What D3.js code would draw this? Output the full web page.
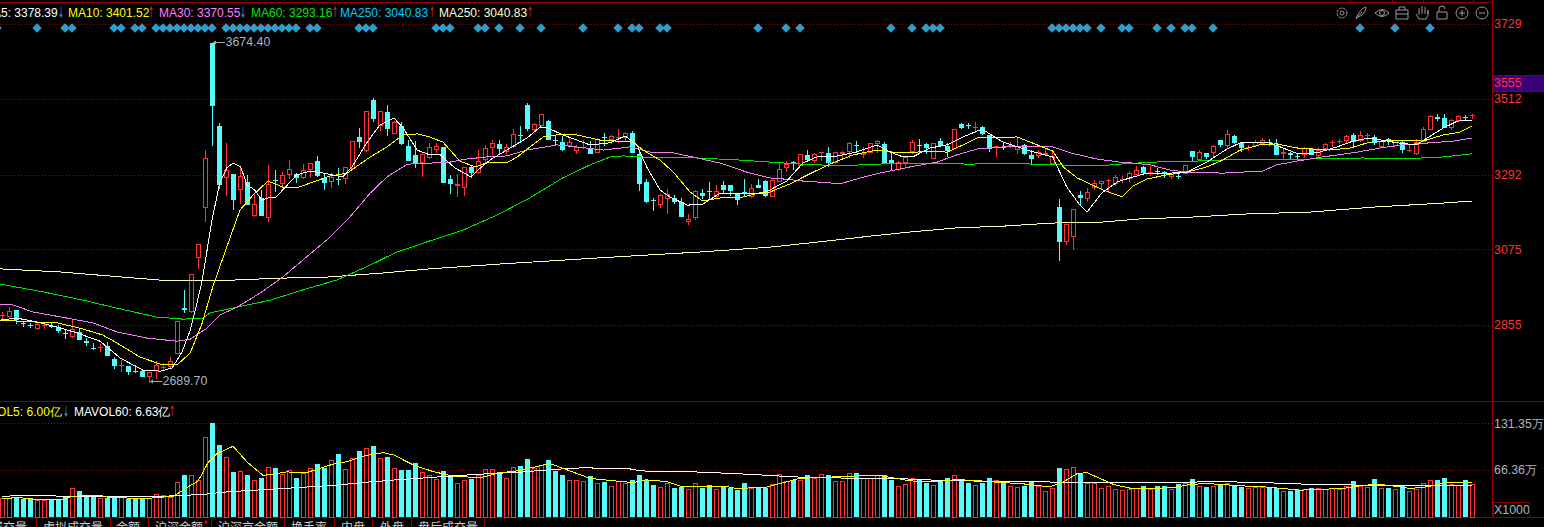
<!DOCTYPE html>
<html><head><meta charset="utf-8">
<script src="https://cdnjs.cloudflare.com/ajax/libs/d3/7.8.5/d3.min.js"></script>
<style>html,body{margin:0;padding:0;background:#000;overflow:hidden}svg{display:block;font-family:"Liberation Sans",Arial,sans-serif}</style>
</head><body><svg id="c" width="1544" height="527"></svg>
<script>
const open=[2883,2881,2898,2862,2856,2846,2854,2853,2849,2833,2823,2835,2809,2789,2790,2794,2756,2738,2736,2722,2721,2707,2724,2732,2736,2774,2903,2896,3052,3198,3674,3433,3285,3294,3250,3270,3174,3224,3168,3277,3268,3294,3294,3285,3308,3331,3282,3273,3280,3282,3311,3401,3363,3508,3436,3473,3413,3433,3375,3349,3328,3343,3366,3372,3279,3261,3256,3314,3299,3337,3372,3381,3360,3375,3408,3494,3424,3436,3447,3393,3386,3378,3363,3371,3369,3357,3402,3395,3400,3401,3413,3352,3270,3219,3206,3224,3224,3212,3157,3168,3239,3245,3230,3262,3262,3239,3240,3230,3262,3273,3230,3273,3314,3329,3320,3349,3334,3356,3355,3328,3354,3360,3379,3351,3357,3384,3381,3334,3308,3328,3360,3379,3381,3340,3389,3375,3369,3439,3437,3429,3430,3407,3372,3373,3377,3366,3378,3349,3349,3352,3326,3198,3099,3113,3233,3224,3256,3268,3275,3268,3278,3282,3294,3314,3298,3303,3298,3288,3289,3297,3360,3337,3355,3357,3392,3378,3404,3384,3371,3378,3384,3387,3378,3354,3353,3347,3352,3366,3349,3369,3385,3388,3392,3407,3392,3406,3401,3375,3396,3378,3386,3362,3355,3389,3424,3458,3456,3430,3450,3460,3464];
const high=[2893,2907,2898,2866,2861,2864,2864,2861,2855,2840,2869,2846,2817,2803,2800,2806,2762,2753,2736,2739,2721,2718,2750,2744,2762,2866,2957,3003,3090,3363,3674.4,3442,3384,3294,3314,3291,3239,3247,3320,3305,3299,3334,3297,3323,3326,3346,3294,3297,3311,3314,3389,3427,3476,3514,3476,3494,3447,3444,3392,3389,3352,3384,3384,3372,3291,3294,3314,3317,3363,3378,3392,3392,3381,3424,3433,3500,3442,3468,3450,3404,3404,3401,3378,3392,3389,3398,3413,3407,3424,3415,3418,3357,3279,3224,3236,3250,3233,3224,3177,3247,3250,3270,3262,3273,3262,3239,3279,3265,3279,3276,3276,3326,3331,3331,3352,3363,3355,3357,3372,3357,3360,3386,3389,3372,3384,3392,3386,3355,3331,3346,3392,3395,3384,3384,3398,3384,3424,3442,3442,3444,3433,3407,3375,3384,3386,3398,3381,3363,3363,3369,3363,3221,3148,3192,3244,3253,3276,3273,3279,3291,3288,3302,3317,3317,3317,3311,3302,3297,3294,3320,3360,3363,3355,3378,3392,3421,3407,3384,3378,3392,3398,3395,3395,3366,3357,3352,3372,3366,3372,3384,3392,3395,3407,3413,3418,3413,3407,3389,3398,3392,3389,3378,3395,3430,3465,3468,3468,3453,3465,3465,3468];
const low=[2875,2881,2861,2852,2849,2843,2846,2849,2835,2817,2820,2814,2797,2785,2779,2768,2730,2721,2713,2718,2707,2689.7,2701,2724,2733,2774,2893,2893,3020,3157,3378,3253,3233,3192,3209,3206,3171,3174,3157,3244,3259,3282,3270,3282,3285,3288,3250,3256,3265,3268,3311,3372,3360,3447,3421,3407,3413,3381,3334,3314,3288,3340,3357,3270,3239,3230,3233,3285,3297,3326,3352,3355,3355,3372,3386,3421,3421,3433,3395,3381,3363,3372,3355,3369,3355,3357,3378,3384,3386,3392,3357,3247,3212,3189,3198,3180,3209,3171,3148,3163,3224,3221,3224,3241,3233,3206,3230,3227,3256,3230,3230,3273,3302,3308,3320,3337,3328,3334,3317,3326,3343,3343,3357,3343,3357,3357,3326,3308,3305,3320,3355,3357,3355,3340,3378,3346,3369,3427,3427,3415,3410,3360,3346,3366,3372,3355,3352,3323,3343,3349,3326,3044,3090,3076,3206,3215,3250,3250,3241,3262,3270,3273,3294,3297,3291,3294,3285,3282,3282,3297,3331,3334,3340,3346,3375,3372,3384,3360,3363,3375,3384,3378,3352,3340,3337,3340,3343,3352,3346,3369,3375,3384,3386,3372,3389,3392,3381,3375,3381,3378,3357,3360,3352,3389,3424,3450,3430,3424,3447,3453,3456];
const close=[2885,2896,2872,2860,2854,2858,2856,2851,2840,2831,2843,2814,2807,2787,2792,2768,2739,2740,2721,2720,2707,2718,2739,2734,2750,2866,2901,3003,3090,3340,3494,3265,3305,3221,3288,3206,3206,3174,3265,3275,3291,3308,3285,3305,3326,3291,3270,3285,3278,3314,3389,3389,3476,3456,3476,3427,3444,3384,3334,3328,3352,3372,3375,3270,3268,3263,3314,3299,3331,3369,3384,3369,3372,3410,3406,3427,3439,3468,3395,3391,3366,3386,3372,3373,3355,3395,3400,3404,3402,3413,3357,3268,3215,3217,3233,3236,3215,3171,3163,3244,3233,3243,3244,3250,3247,3221,3238,3253,3256,3233,3276,3308,3323,3327,3352,3337,3352,3357,3328,3357,3356,3384,3377,3353,3384,3389,3326,3326,3328,3343,3386,3377,3372,3384,3378,3363,3424,3430,3435,3431,3413,3369,3375,3371,3379,3375,3355,3340,3357,3355,3346,3099,3148,3192,3227,3241,3268,3273,3277,3285,3280,3297,3305,3299,3300,3301,3296,3294,3287,3320,3346,3357,3346,3375,3381,3410,3386,3372,3373,3386,3392,3385,3352,3356,3351,3345,3369,3352,3363,3381,3387,3390,3404,3389,3407,3408,3386,3389,3394,3392,3366,3364,3386,3424,3462,3456,3430,3450,3462,3458,3466];
const volume=[26.9,26.9,27.3,25,25.9,23.2,23.2,25,25,27.8,40.8,36.2,28.7,28.3,25.9,26.4,27.3,27.8,25,25,25,25.9,32.4,30.1,27.3,49.1,58.4,59.3,51.4,112,131.35,101,84.3,62.5,64.8,58.4,52.4,54.7,70.4,68.1,59.8,65.8,54.2,61.6,69.1,73.7,68.1,80.2,87.6,67.6,82.9,91.7,96.8,98.7,82.9,83.4,69.1,65.3,65.3,76,63.5,58,53.7,64.9,56.1,48.2,52.4,52.9,58.4,67.6,67.6,63,55.1,70.4,70.9,80.6,69,72.3,79.2,63.9,58.4,52.4,52.4,51,57,48.2,48.6,44,51,47.3,51.4,58.4,52.4,44.5,42.6,48.2,40.3,42.2,38.5,48.2,40.8,44.5,39.8,42.2,41.2,37.5,47.3,40.8,41.2,41.2,46.8,60.7,50.5,52.4,52.4,58.4,54.7,60.7,58.4,51,51,62.1,61.2,54.7,54.7,59.3,58.4,51.4,44,46.8,55.1,52.4,47.3,45.4,50.5,54.2,59.3,52.4,47.3,45.4,47.3,54.2,52.4,47.3,44,42.6,43,48.6,43.6,36.1,41.2,68.1,67.6,70.4,60.7,48.2,48.2,41.2,44,39.8,37.5,38.5,41.2,43,38.9,43,43,39.8,45.9,48.2,52.8,44,41.7,43,45.9,48.2,44.5,41.7,41.2,41.7,42.6,41.2,41.2,36.1,36.1,37.5,39.8,40.3,41.2,39.8,41.2,38.5,44,50,44,42.6,52.8,41.2,40.3,38.5,43,36.1,38.9,47.3,52.4,51.4,54.2,46.8,45.4,51.4,45.9];

const ma5Bars=[-.3,2.1,5,7.9,10.7,14,16.9,20.1,22.6,24.3,25.7,26.9,28.3,28.6,30,31.1,32.1,33,34.1,35,36.1,37.1,38,39,40.1,42.1,44,46,48.7,50,52.1,54,56,57.3,59.3,61.1,62.6,64.7,67,68,69.7,72.1,75,76.9,78,80.1,84,86.9,89,90.7,92.1,94,95.4,97.9,100.1,102.6,104,108.7,109.7,112.1,114.4,116.4,118.7,121.6,125,126.9,128.7,130.1,132.6,135,137.3,140,143,146.9,150.1,152.1,154,155,157.1,159.3,161.1,163.6,166.9,169.3,172.1,175,176.9,181.1,183,185.1,187.9,190.7,193,195.4,199.3,202.1,203.6,205.9,207.9,210];
const ma5=[2869,2875,2864,2849,2832,2808,2759,2724,2721,2730,2776,2840,2957,2986,3160,3267,3311,3325,3314,3262,3247,3218,3224,3224,3247,3291,3302,3296,3285,3314,3384,3436,3456,3427,3363,3349,3349,3311,3285,3305,3334,3363,3398,3430,3427,3407,3378,3384,3404,3378,3314,3247,3227,3203,3206,3238,3238,3238,3247,3273,3325,3343,3343,3355,3378,3357,3343,3343,3369,3378,3401,3424,3386,3360,3343,3256,3203,3183,3238,3270,3282,3296,3296,3299,3328,3366,3384,3384,3369,3352,3355,3372,3389,3398,3384,3378,3398,3427,3447,3450];
const ma10Bars=[-.3,4.4,7.9,11.1,14.4,16.4,19.7,23,25,26.9,28.6,30.1,32.1,34,35.9,38,40.4,42.1,44.4,46.9,49.3,52.6,55,57.3,59.4,61.1,63,65.4,67.6,69.3,72.1,73.6,75.4,77.3,79.3,82.1,85.4,90.1,91.6,94,95.9,98.3,100.1,102.6,105.4,108.7,109.7,112.6,115.9,118.7,121.6,125,127.3,130.7,132.6,135,137.3,139.3,145,147.9,150.1,151.6,153.6,157.3,160,161.6,163.6,166.4,169.3,172.1,174.4,176.9,179.7,182.1,185,189.7,192.6,195.4,199.7,203,205.9,208.3,210];
const ma10=[2869,2864,2861,2846,2826,2803,2762,2739,2739,2774,2861,2965,3081,3189,3233,3273,3253,3253,3270,3288,3296,3343,3372,3407,3410,3401,3386,3331,3314,3326,3326,3343,3372,3401,3407,3407,3392,3386,3363,3334,3299,3241,3215,3224,3224,3241,3241,3265,3299,3326,3349,3363,3357,3357,3360,3357,3378,3398,3401,3378,3360,3314,3282,3247,3227,3259,3279,3291,3299,3314,3334,3363,3378,3381,3369,3363,3369,3386,3392,3389,3407,3415,3433];
const ma30Bars=[-.3,1.6,4.4,9.3,13,16.4,20.7,25,26.9,29.3,31.1,33.6,36.9,40.1,43,46.4,49.7,52.6,55,57.9,61.1,64,66.4,69.3,72.1,75,79.3,82.1,85.9,89.7,92.6,95.4,99.3,102.6,106.4,109.7,111.6,114.4,118.7,120.1,122.6,125.4,129.7,133.6,136.4,139.3,143,150.1,152.6,156.4,159.7,161.6,164,166.9,169.3,174.4,180.1,182.1,185,188.7,193.6,196.9,200.1,204,207.3,210];
const ma30=[2916,2913,2893,2875,2861,2835,2817,2808,2814,2846,2884,2907,2948,2994,3044,3102,3169,3238,3285,3322,3325,3328,3337,3343,3346,3363,3378,3372,3363,3372,3357,3357,3340,3325,3299,3282,3279,3273,3267,3267,3282,3296,3314,3328,3349,3366,3372,3372,3355,3337,3328,3325,3320,3305,3299,3296,3302,3320,3331,3343,3357,3369,3378,3384,3389,3398];
const ma60Bars=[-.3,2.1,5.9,11.6,16.4,22.1,25.9,28.7,29.7,33.6,38.3,43,47.9,52.6,56.4,61.1,65.9,70.7,75.4,80.1,84,86.9,88.7,93.6,99.3,105.4,109.7,114.4,120.1,124.4,132.6,138.3,143,150.7,156.4,159.7,164.4,170.7,177.3,186.9,194.4,199.7,205.9,210];
const ma60=[2974,2965,2951,2927,2904,2878,2872,2875,2890,2907,2927,2957,2986,3029,3067,3099,3131,3174,3224,3282,3320,3343,3346,3340,3340,3334,3328,3322,3317,3322,3325,3322,3325,3320,3317,3322,3328,3331,3337,3337,3340,3337,3343,3352];
const ma250Bars=[-.3,8.3,24,30.1,39.7,46.4,54.4,61.1,71.1,85.4,99.7,109.7,119.3,124,129.7,136.4,143,150.1,157.3,162.6,170.7,177.3,186.9,196.4,205.9,210];
const ma250=[3018,3009,2983,2983,2991,2994,3006,3018,3032,3050,3067,3081,3102,3113,3125,3137,3142,3151,3154,3163,3169,3177,3183,3198,3209,3215];
const vol5Bars=[0,2.5,5.5,8.7,10,14,15.4,20.7,24.5,26.9,28,29.5,30.7,33,35,37.3,40.7,43.5,48,49.2,52,54.5,56,58.8,61.6,64.5,68.3,71,74,77,78.3,80.7,84,87,90.2,92,95,96.9,103.5,105,109.2,111.6,114,118.8,125,127.3,129.7,133,136.4,139.7,142.6,145.5,147.4,149.7,151.6,153.6,155,156.9,158.8,161.6,164.5,167.4,169.7,172.1,176.9,180.2,183,185.5,187.8,191.6,194,196.4,198.3,201.2,203.6,206.4,209.3,210];
const vol5=[26,27,24,24,29,30.5,27,26,29,44,50,77,88.5,98.7,77,58,63,62,76,77,86,90,86.5,72.5,63.5,57,55,61.5,65,72,74.6,66,54,51,48,51.9,49.5,43,42.6,39.8,41.7,48,54,56,58.5,54.7,50.5,49,52.4,50.5,48.2,46.8,44.5,42.2,49,60.7,62,53.7,45.4,39.4,39.8,41.2,45.4,46.8,43.6,42.2,39.8,37.5,38.5,39.8,43.6,45.9,44,39.8,42.2,48.2,49,48.2];
const vol60Bars=[0,7.3,8,23.5,26,28.3,29.7,31.1,33,35.4,37.8,40,42.6,45,47.3,49.7,52,54.5,56.9,59.2,61.6,64,67.3,71,74.5,77.3,80.7,83.5,85.7,89.5,90.7,92.6,97.6,101.6,104.5,107.6,109.6,112.6,115.4,118.8,123.5,128.3,130.7,133.5,137.8,142.6,149.5,150.7,176.4,176.6,181.6,181.8,185.5,185.7,193,193.2,210];
const vol60=[29.2,30,28.7,29.2,30.1,31.5,32.4,34.3,35.7,37,38.5,39.8,41.2,43,44,46.3,48.6,50.5,52.4,53.7,55.6,57,59.3,61.2,63,65.3,67.6,69,67.6,67.6,65.3,63.5,63.5,62,60.7,59.3,58,56.5,55,54.7,53.7,53.7,52.4,51.4,50.5,49.6,49.1,48.2,49.1,48,48,46.8,46.8,45.4,45.4,44,44];

const signalBars=[-.7,5,9,10,16,17,19,20,22,23,24,25,26,27,28,29,30,32,33,34,35,36,37,38,39,40,41,42,44,45,51,52,53,62,63,64,68,69,71,74,77,83,88,90,91,94,95,108,112,114,127,130,132,133,134,150,151,152,153,154,155,157,160,161,165,167,169,170,173,194,199,204];
const priceTicks=[3729,3512,3292,3075,2855];
const currentPrice=3555;
const volTicks=[131.35,66.36];
const volTickLabels=["131.35万","66.36万"];
const legendLabels=["MA5: 3378.39","MA10: 3401.52","MA30: 3370.55","MA60: 3293.16","MA250: 3040.83","MA250: 3040.83"];
const legendArrows=["↓","↑","↓","↑","↑","↑"];
const volLegendLabels=["MAVOL5: 6.00亿","MAVOL60: 6.63亿"];
const volLegendArrows=["↓","↑"];
const tabLabels=["成交量","虚拟成交量","金额","沪深金额","沪深京金额","换手率","内盘","外盘","盘后成交量"];
const topTickBars=[192.6,198.6,203,210.1];

const RED="#ff3333",CYAN="#54fcfc",GRID="#a00000",AX="#8c0000",LBL="#a9b6c4";
const svg=d3.select("#c");
const W=1544,H=527,AXX=1492;
const x=d3.scaleLinear().domain([0,210]).range([2,1472]);
const y=d3.scaleLinear().domain([2855,3729]).range([325,24]);
const v=d3.scaleLinear().domain([0,131.35]).range([517,423]);
const px=n=>Math.round(x(n))+.5;
const py=p=>Math.round(y(p))+.5;
const pv=p=>Math.round(v(p))+.5;
svg.append("rect").attr("width",W).attr("height",H).attr("fill","#000");

// frame
const frame=svg.append("g").attr("stroke",AX).attr("shape-rendering","crispEdges");
frame.append("line").attr("x1",0).attr("x2",AXX).attr("y1",2.5).attr("y2",2.5);
frame.selectAll("line.t").data(topTickBars).join("line").attr("x1",d=>px(d)).attr("x2",d=>px(d)).attr("y1",0).attr("y2",2);
frame.append("line").attr("x1",AXX+.5).attr("x2",AXX+.5).attr("y1",0).attr("y2",517);
frame.append("line").attr("x1",0).attr("x2",W).attr("y1",401.5).attr("y2",401.5);
frame.append("line").attr("x1",0).attr("x2",W).attr("y1",517.5).attr("y2",517.5);

// grid
const grid=svg.append("g").attr("stroke",GRID).attr("stroke-dasharray","1,2").attr("shape-rendering","crispEdges");
grid.selectAll("line.p").data(priceTicks).join("line").attr("x1",0).attr("x2",AXX).attr("y1",py).attr("y2",py);
grid.selectAll("line.v").data(volTicks).join("line").attr("x1",0).attr("x2",AXX).attr("y1",pv).attr("y2",pv);

// current price band
svg.append("rect").attr("x",AXX+1).attr("y",Math.round(y(currentPrice))-9+.5).attr("width",W-AXX).attr("height",16).attr("fill","#3c0078").attr("stroke",AX).attr("shape-rendering","crispEdges");

// volume
const bars=d3.range(volume.length);
const isUp=i=>close[i]>=open[i];
svg.append("g").attr("shape-rendering","crispEdges").selectAll("rect").data(bars).join("rect")
 .attr("x",i=>isUp(i)?px(i)-2:px(i)-2.5)
 .attr("y",i=>isUp(i)?pv(volume[i]):pv(volume[i])-.5)
 .attr("width",i=>isUp(i)?4:5)
 .attr("height",i=>517-pv(volume[i])+(isUp(i)?0:.5))
 .attr("fill",i=>isUp(i)?"none":CYAN).attr("stroke",i=>isUp(i)?RED:"none");

// candles
const cg=svg.append("g").attr("shape-rendering","crispEdges");
cg.selectAll("line").data(bars).join("line")
 .attr("x1",i=>px(i)).attr("x2",i=>px(i)).attr("y1",i=>py(high[i])-.5).attr("y2",i=>py(low[i])+.5)
 .attr("stroke",i=>isUp(i)?RED:CYAN);
cg.selectAll("rect").data(bars).join("rect")
 .each(function(i){
   const t=py(Math.max(open[i],close[i])),b=py(Math.min(open[i],close[i]));
   const s=d3.select(this),flat=b-t<2;
   if(isUp(i)&&!flat) s.attr("x",px(i)-2).attr("y",t).attr("width",4).attr("height",b-t).attr("fill","#000").attr("stroke",RED);
   else s.attr("x",px(i)-2.5).attr("y",t-.5).attr("width",5).attr("height",Math.max(1,b-t+1)).attr("fill",isUp(i)?RED:CYAN);
 });

// moving averages
function drawLine(sc,xs,ys,color){
  const l=d3.line().x(d=>x(d[0])).y(d=>sc(d[1]));
  svg.append("path").attr("d",l(xs.map((d,i)=>[d,ys[i]]))).attr("fill","none").attr("stroke",color).attr("stroke-width",1).attr("shape-rendering","crispEdges");
}
drawLine(y,ma250Bars,ma250,"#ffffb4");
drawLine(y,ma60Bars,ma60,"#00e600");
drawLine(y,ma30Bars,ma30,"#f080f0");
drawLine(y,ma10Bars,ma10,"#ffff00");
drawLine(y,ma5Bars,ma5,"#ffffff");
drawLine(v,vol60Bars,vol60,"#ffffff");
drawLine(v,vol5Bars,vol5,"#ffff00");

// signals
svg.append("g").selectAll("path").data(signalBars).join("path")
 .attr("d",d3.symbol(d3.symbolDiamond2,58)()).attr("transform",i=>`translate(${x(i)},28)`).attr("fill","#2f9cc9");

// extreme labels
const hiI=d3.maxIndex(high),loI=d3.minIndex(low);
const ann=svg.append("g");
[[hiI,high[hiI]],[loI,low[loI]]].forEach(([i,val],k)=>{
  const yy=k?381:42;
  ann.append("line").attr("x1",x(i)+1).attr("x2",x(i)+13).attr("y1",yy+.5).attr("y2",yy+.5).attr("stroke","#a8a8a8").attr("shape-rendering","crispEdges");
  ann.append("path").attr("d",`M${x(i)+1},${yy+.5}l3,-2v4z`).attr("fill","#a8a8a8");
  ann.append("text").attr("x",x(i)+13.5).attr("y",yy+3.5).attr("font-size",12.4).attr("fill",LBL).text(d3.format(".2f")(val));
});

// right axis
const ax=svg.append("g").attr("font-size",12.4);
ax.selectAll("text.p").data(priceTicks).join("text").attr("x",1494).attr("y",d=>y(d)+4.3).attr("fill",RED).text(d=>d);
ax.append("text").attr("x",1494).attr("y",y(currentPrice)+3.5).attr("fill",RED).text(currentPrice);
ax.selectAll("text.v").data(volTicks).join("text").attr("x",1494).attr("y",d=>v(d)+4.5).attr("fill",LBL).text((d,i)=>volTickLabels[i]);
svg.append("rect").attr("x",1493.5).attr("y",502.5).attr("width",36).attr("height",15).attr("fill","none").attr("stroke",AX).attr("shape-rendering","crispEdges");
ax.append("text").attr("x",1494).attr("y",514).attr("fill",LBL).text("X1000");

// legends
const ARROWFONT="'Noto Sans CJK SC'";
const legendX=[-17,68,159,251,340,439],arrowX=[58,148,240,332,429,527];
const legendC=["#ffffff","#ffff00","#ff80ff","#00e600","#00ccff","#ffffc8"],arrowC=["#2f9cc9","#e02020","#2f9cc9","#e02020","#e02020","#e02020"];
const lg=svg.append("g").attr("font-size",12);
const addArrow=(ax0,yy,col,t)=>lg.append("text").attr("x",ax0).attr("y",yy).attr("fill",col).attr("font-weight","bold").attr("font-family",ARROWFONT).attr("textLength",6).attr("lengthAdjust","spacingAndGlyphs").text(t);
legendLabels.forEach((t,i)=>{
  lg.append("text").attr("x",legendX[i]).attr("y",17).attr("fill",legendC[i]).text(t);
  addArrow(arrowX[i],17,arrowC[i],legendArrows[i]);
});
const vlx=[-28,74],vax=[63,169],vlc=["#ffff00","#ffffff"];
volLegendLabels.forEach((t,i)=>{
  lg.append("text").attr("x",vlx[i]).attr("y",416).attr("fill",vlc[i]).text(t);
  addArrow(vax[i],416,arrowC[i],volLegendArrows[i]);
});

// tabs
const tabX=[-9,43,116,155,218,291,341,380,418],tabSep=[36,110,148,211,284,334,372,411,484];
const tabs=svg.append("g");
tabs.selectAll("text").data(tabLabels).join("text").attr("x",(d,i)=>tabX[i]).attr("y",532).attr("font-size",12).attr("fill","#cfcfcf").attr("font-family","'Noto Sans CJK SC'").text(d=>d);
tabs.selectAll("line").data(tabSep).join("line").attr("x1",d=>d+.5).attr("x2",d=>d+.5).attr("y1",518).attr("y2",527).attr("stroke",AX).attr("shape-rendering","crispEdges");
tabs.append("circle").attr("cx",206).attr("cy",522).attr("r",1.6).attr("fill","#ff0000");

// toolbar icons
const ic=svg.append("g").attr("fill","none").attr("stroke","#9a9a9a").attr("stroke-width",1);
const at=(xx)=>ic.append("g").attr("transform",`translate(${xx},13)`);
let g=at(1342);g.append("circle").attr("r",2);g.append("circle").attr("r",5).attr("stroke-dasharray","3,1");
g=at(1361);g.append("path").attr("d","M-5,6C-3,0 1,-5 5,-6C5,-1 1,3 -3,4M-5,6L1,-1");
g=at(1382);g.append("path").attr("d","M-7,0Q0,-7 7,0Q0,7 -7,0Z");g.append("circle").attr("r",2.5);
g=at(1402);g.append("path").attr("d","M-6,-3H6V6H-6ZM-3,-3V-6H3V-3M-6,1H6");
g=at(1422);g.append("path").attr("d","M-6,1L-3,6H4L6,2V-3M-3,2V-5M0,1V-7M3,1V-6M6,1V-3");
g=at(1442);g.append("path").attr("d","M-5,-1H5V6H-5ZM-3,-1V-4Q-3,-7 0,-7Q3,-7 3,-4");
g=at(1462);g.append("circle").attr("r",6);g.append("path").attr("d","M-3,0H3M0,-3V3");
g=at(1482);g.append("circle").attr("r",6);g.append("path").attr("d","M-3,0H3");
</script></body></html>
